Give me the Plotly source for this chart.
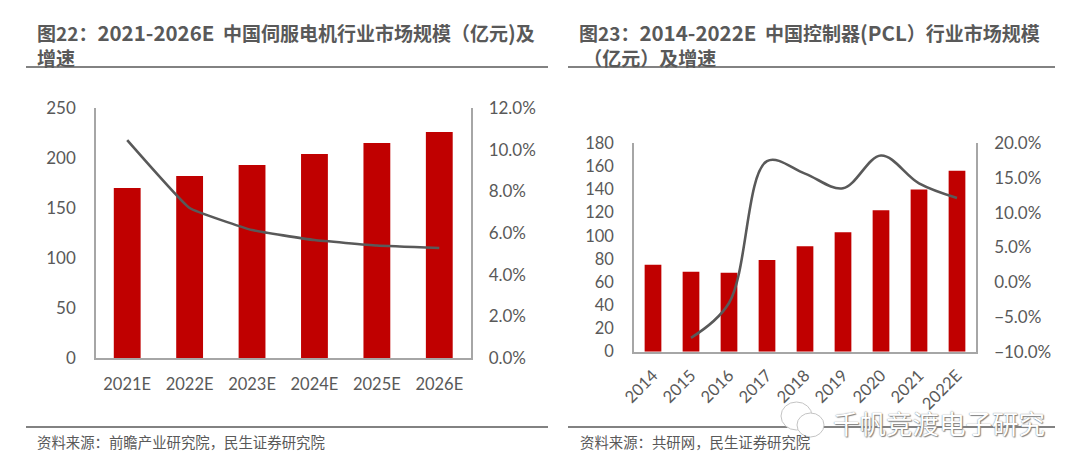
import plotly.graph_objects as go

W, H = 1080, 469

cats_left = ["2021E", "2022E", "2023E", "2024E", "2025E", "2026E"]
size_left = [170, 182, 193, 204, 215, 226]
growth_left = [10.46, 7.2, 6.14, 5.66, 5.4, 5.28]

cats_right = ["2014", "2015", "2016", "2017", "2018", "2019", "2020", "2021", "2022E"]
size_right = [75, 69, 68, 79, 91, 103, 122, 140, 156]
growth_right = [None, -8.0, -3.0, 17.4, 15.6, 13.5, 18.2, 14.2, 12.1]

RED = "#C00000"
LINE = "#595959"
AXIS = "#A6A6A6"
TXT = "#595959"
TICK_FONT = "Lato, 'Noto Sans CJK SC'"
CJK = "'Noto Sans CJK SC'"

fig = go.Figure()
fig.add_bar(x=cats_left, y=size_left, marker=dict(color=RED, line=dict(width=0)), width=0.43, xaxis="x", yaxis="y")
fig.add_scatter(x=cats_left, y=growth_left, mode="lines", xaxis="x", yaxis="y2",
                line=dict(color=LINE, width=2.6, shape="spline", smoothing=0.3))
fig.add_bar(x=cats_right, y=size_right, marker=dict(color=RED, line=dict(width=0)), width=0.44, xaxis="x3", yaxis="y3")
fig.add_scatter(x=cats_right, y=growth_right, mode="lines", xaxis="x3", yaxis="y4",
                line=dict(color=LINE, width=2.6, shape="spline", smoothing=1.0))


def dom_x(a, b):
    return [a / W, b / W]


def dom_y(top, bottom):
    return [1 - bottom / H, 1 - top / H]


def xax(domain, anchor, size, **kw):
    return dict(domain=domain, anchor=anchor, type="category", showgrid=False, zeroline=False,
                automargin=False, showline=True, linecolor=AXIS, linewidth=1.5, ticks="outside",
                tickcolor="rgba(0,0,0,0)", tickfont=dict(family=TICK_FONT, size=size, color=TXT), **kw)


def yax(domain, anchor, side, rng, dtick, fmt, size, overlaying=None, ticklen=18):
    d = dict(domain=domain, anchor=anchor, side=side, range=rng, dtick=dtick, tick0=rng[0],
             tickformat=fmt, showgrid=False, zeroline=False, showline=True, linecolor=AXIS,
             automargin=False, linewidth=1.5, ticks="outside", ticklen=ticklen,
             tickcolor="rgba(0,0,0,0)", tickfont=dict(family=TICK_FONT, size=size, color=TXT))
    if overlaying:
        d["overlaying"] = overlaying
    return d


dyL = dom_y(108, 358)
dyR = dom_y(143, 351.7)

shapes = []
for x0, x1, y in [(26, 548, 67), (26, 548, 427), (568, 1055, 67), (568, 1055, 427)]:
    shapes.append(dict(type="line", xref="paper", yref="paper", x0=x0 / W, x1=x1 / W,
                       y0=1 - y / H, y1=1 - y / H, line=dict(color="#595959", width=1.5)))
for x0, x1, y0, y1 in [(781, 812, 402, 430), (797, 824, 413, 437)]:
    shapes.append(dict(type="circle", xref="paper", yref="paper", x0=x0 / W, x1=x1 / W,
                       y0=1 - y1 / H, y1=1 - y0 / H, fillcolor="white",
                       line=dict(color="#c4c4c4", width=1)))


def label(x, y, text, size, bold=False, color=TXT, xanchor="left", **fontkw):
    return dict(xref="paper", yref="paper", x=x / W, y=1 - y / H,
                text=f"<b>{text}</b>" if bold else text,
                showarrow=False, xanchor=xanchor, yanchor="middle", align="left",
                font=dict(family=CJK, size=size, color=color, **fontkw), borderpad=0)


def wide(s):
    return f'<span style="font-size:20.5px">{s}</span>'


NB = "\u00a0"
annotations = [
    label(35.5, 43.5, f"图22：{wide('2021-2026E')}{NB}{NB}中国伺服电机行业市场规模（亿元{wide(')')}及<br>增速", 19, True),
    label(578, 43.5, f"图23：{wide('2014-2022E')}{NB}{NB}中国控制器{wide('(PCL')}）行业市场规模<br>{NB}（亿元）及增速", 19, True),
    label(36, 441, "资料来源：前瞻产业研究院，民生证券研究院", 14.4),
    label(579, 441, "资料来源：共研网，民生证券研究院", 14.4),
    label(832, 422, "千帆竞渡电子研究", 26.5, False, "#ffffff", shadow="0 0 1.2px #666, 1px 1px 1px #888"),
]

fig.update_layout(
    template="none",
    width=W, height=H, margin=dict(l=0, r=0, t=0, b=0, pad=0), autosize=False,
    paper_bgcolor="white", plot_bgcolor="white", showlegend=False, barmode="overlay",
    xaxis=xax(dom_x(96, 470.5), "y", 16.5, ticklen=10),
    yaxis=yax(dyL, "x", "left", [0, 250], 50, "d", 17, ticklen=15),
    yaxis2=yax(dyL, "x", "right", [0, 12], 2, ".1f", 17, overlaying="y", ticklen=13),
    xaxis3=xax(dom_x(634, 976), "y3", 16.5, ticklen=6, tickangle=-45),
    yaxis3=yax(dyR, "x3", "left", [0, 180], 20, "d", 16.5, ticklen=15),
    yaxis4=yax(dyR, "x3", "right", [-10, 20], 5, ".1f", 17, overlaying="y3", ticklen=13),
    shapes=shapes, annotations=annotations,
)
fig.update_yaxes(ticksuffix="%", selector=dict(side="right"))

fig.write_html("out.html", post_script="document.body.style.margin='0';",
               config={"displayModeBar": False})
